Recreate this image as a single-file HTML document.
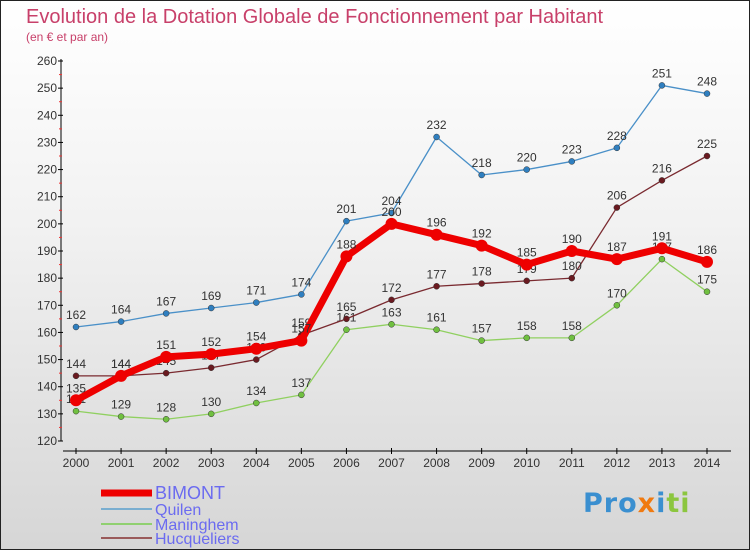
<!DOCTYPE html>
<html><head><meta charset="utf-8"><style>
body{margin:0}
#c{width:750px;height:550px;position:relative;box-sizing:border-box;border:1px solid #222;background:linear-gradient(#fff,#f2f2f2 40%,#d6d6d6);font-family:"Liberation Sans",sans-serif;overflow:hidden}
text{font-family:"Liberation Sans",sans-serif}
</style></head><body>
<div id="c">
<svg id="s" width="750" height="550" style="position:absolute;left:0;top:0">
<text x="25" y="22" font-size="20" fill="#c8406a">Evolution de la Dotation Globale de Fonctionnement par Habitant</text>
<text x="25" y="40" font-size="12" fill="#c8406a">(en € et par an)</text>
<g id="g"></g>
</svg>
<div style="position:absolute;left:582px;top:487px;font-size:27px;font-weight:bold;letter-spacing:1px;font-family:'DejaVu Sans',sans-serif"><span style="color:#3a8fd0">Pro</span><span style="color:#f07a10">x</span><span style="color:#3a8fd0">i</span><span style="color:#8cc63f">ti</span></div>
</div>
<script>
const years=[2000,2001,2002,2003,2004,2005,2006,2007,2008,2009,2010,2011,2012,2013,2014];
const bimont=[135,144,151,152,154,157,188,200,196,192,185,190,187,191,186];
const quilen=[162,164,167,169,171,174,201,204,232,218,220,223,228,251,248];
const maninghem=[131,129,128,130,134,137,161,163,161,157,158,158,170,187,175];
const hucqueliers=[144,144,145,147,150,159,165,172,177,178,179,180,206,216,225];
const yTicks=[120,130,140,150,160,170,180,190,200,210,220,230,240,250,260];
const seriesNames=['BIMONT','Quilen','Maninghem','Hucqueliers'];
const NS='http://www.w3.org/2000/svg';
const g=document.getElementById('g');
const X=i=>75+i*(706-75)/(years.length-1);
const Y=v=>440-(v-120)*(380/140);
function mk(t,a,p){const e=document.createElementNS(NS,t);for(const k in a)e.setAttribute(k,a[k]);(p||g).appendChild(e);return e;}
let e=mk('line',{x1:60,y1:58,x2:60,y2:440,stroke:'#000'});


yTicks.forEach((v,i)=>{
 mk('line',{x1:57,x2:62,y1:Y(v),y2:Y(v),stroke:'#000'});
 if(i<yTicks.length-1)mk('line',{x1:58,x2:61,y1:Y(v+5),y2:Y(v+5),stroke:'#e33'});
 const t=mk('text',{x:56,y:Y(v)+4,'font-size':12,fill:'#333','text-anchor':'end'});t.textContent=v;
 
 
});
e=mk('line',{x1:62,y1:450,x2:730,y2:450,stroke:'#000'});


years.forEach((y,i)=>{
 mk('line',{x1:X(i),x2:X(i),y1:447,y2:453,stroke:'#000'});
 const t=mk('text',{x:X(i),y:466,'font-size':12,fill:'#333','text-anchor':'middle'});t.textContent=y;
 
 
});
const defs=[
 [quilen,'#4a90c8','#2f7fc0',1.3,3,'quilen'],
 [maninghem,'#90d060','#70c040',1.3,3,'maninghem'],
 [hucqueliers,'#7a2a30','#6a1a20',1.3,3,'hucqueliers'],
 [bimont,'#ee0000','#ee0000',7,6,'bimont']];
defs.forEach(([d,c,pc,w,r,n])=>{
 const l=mk('polyline',{points:d.map((v,i)=>X(i)+','+Y(v)).join(' '),fill:'none',stroke:c,'stroke-width':w,'stroke-linejoin':'round'});
 
 
 d.forEach((v,i)=>{
  const p=mk('circle',{cx:X(i),cy:Y(v),r:r,fill:pc,stroke:r>4?'none':'#333','stroke-width':0.5});
  
  
  const t=mk('text',{x:X(i),y:Y(v)-8,'font-size':12,fill:'#333','text-anchor':'middle'});t.textContent=v;
  
  
 });
});
const lg=[['#ee0000',7],['#7aaed0',2],['#90d070',2],['#9a5a5a',2]];
seriesNames.forEach((n,i)=>{
 const y=[492,508,523,537][i];
 const l=mk('line',{x1:100,x2:151,y1:y,y2:y,stroke:lg[i][0],'stroke-width':lg[i][1]});
 
 
 const t=mk('text',{x:154,y:y+6,'font-size':i?16:18,fill:'#6b6bf0'});t.textContent=n;
 
 
});
</script>
</body></html>
